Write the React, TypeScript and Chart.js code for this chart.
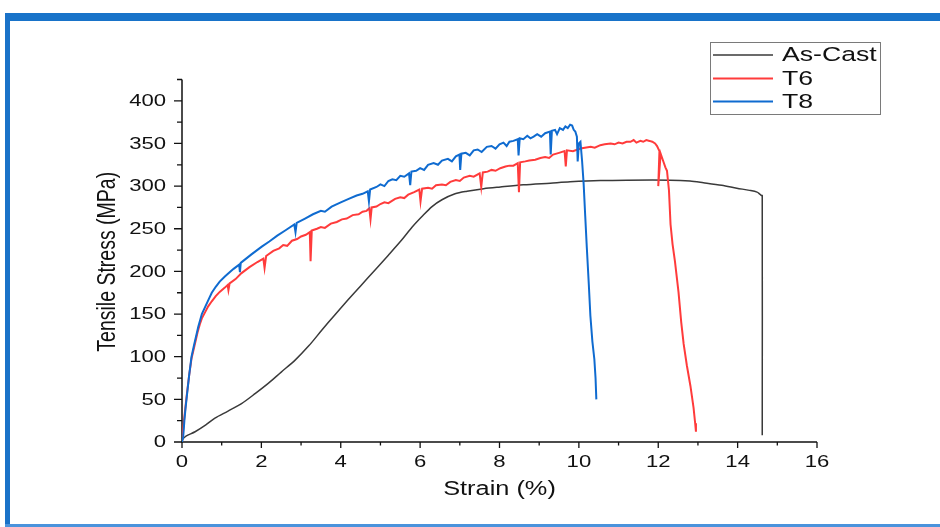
import React, { useEffect, useRef } from 'react';
import { Chart, registerables } from 'chart.js';

Chart.register(...registerables);

// ---- tick labels / axis ranges ----
const X_TICKS = [0, 2, 4, 6, 8, 10, 12, 14, 16];
const X_MINOR = [1, 3, 5, 7, 9, 11, 13, 15];
const Y_TICKS = [0, 50, 100, 150, 200, 250, 300, 350, 400];
const Y_MINOR = [25, 75, 125, 175, 225, 275, 325, 375, 425];
const X_MAX = 16;
const Y_MAX = 425;
const X_TITLE = 'Strain (%)';
const Y_TITLE = 'Tensile Stress (MPa)';
const SERIES_NAMES = ['As-Cast', 'T6', 'T8'];
const SERIES_COLORS = ['#3a3a3a', '#ff3b3b', '#0f6bd0'];

// ---- As-Cast ----
const asCastStrain = [0, 0.03, 0.1, 0.33, 0.6, 0.83, 1.15, 1.5, 1.85, 2.18, 2.5, 2.85, 3.2, 3.52, 3.85, 4.19, 4.5, 4.87, 5.2, 5.54, 5.8, 6.04, 6.3, 6.55, 6.88, 7.18, 7.6, 8.02, 8.6, 9.28, 9.78, 10.54, 11.2, 12.3, 12.8, 13.14, 13.6, 13.98, 14.3, 14.49, 14.55, 14.6, 14.62, 14.62];
const asCastStress = [2, 4, 7, 12, 20, 28, 36, 45, 57, 69, 82, 96, 113, 131, 149, 167, 183, 202, 219, 237, 252, 264, 276, 284, 291, 294, 297, 299, 301.5, 303.5, 305, 306.5, 307, 307, 306, 304, 301, 297.6, 295, 293, 291, 289, 289, 8];

// ---- T6 ----
const t6Strain = [0, 0.05, 0.08, 0.12, 0.18, 0.24, 0.3, 0.4, 0.45, 0.5, 0.58, 0.66, 0.75, 0.85, 0.95, 1.08, 1.15, 1.17, 1.2, 1.35, 1.5, 1.7, 1.9, 2.05, 2.08, 2.12, 2.3, 2.45, 2.55, 2.65, 2.77, 2.9, 3.0, 3.12, 3.22, 3.24, 3.27, 3.4, 3.5, 3.6, 3.75, 3.9, 4.03, 4.15, 4.3, 4.45, 4.55, 4.65, 4.72, 4.75, 4.78, 4.9, 5.0, 5.1, 5.2, 5.37, 5.5, 5.6, 5.7, 5.85, 5.98, 6.01, 6.05, 6.2, 6.3, 6.4, 6.55, 6.65, 6.76, 6.9, 7.0, 7.1, 7.25, 7.35, 7.5, 7.54, 7.58, 7.7, 7.8, 7.9, 8.02, 8.15, 8.25, 8.35, 8.46, 8.49, 8.52, 8.65, 8.75, 8.9, 9.03, 9.15, 9.25, 9.35, 9.5, 9.64, 9.67, 9.7, 9.85, 10.04, 10.15, 10.3, 10.4, 10.54, 10.65, 10.8, 10.9, 11.0, 11.1, 11.2, 11.3, 11.38, 11.45, 11.55, 11.62, 11.7, 11.78, 11.85, 11.92, 11.97, 12.03, 12.0, 12.06, 12.12, 12.18, 12.22, 12.27, 12.31, 12.36, 12.42, 12.51, 12.58, 12.64, 12.72, 12.81, 12.89, 12.93, 12.95];
const t6Stress = [0, 25, 38, 55, 78, 98, 110, 130, 138, 145, 152, 159, 165, 171, 176, 181, 184, 178, 186, 191, 198, 205, 211, 215, 204, 218, 224, 227, 231, 230, 236, 238, 241, 243, 246, 212, 248, 250, 252, 251, 256, 258, 261, 262, 266, 267, 270, 271, 274, 261, 275, 276, 279, 281, 280, 285, 287, 286, 290, 293, 296, 282, 297, 298, 297, 301, 302, 301, 305, 307, 306, 310, 312, 311, 315, 299, 316, 317, 319, 318, 321, 323, 324, 324, 327, 293, 328, 329, 330, 331, 333, 334, 333, 337, 339, 341, 323, 342, 341, 344, 345, 346, 345, 348, 349, 350, 349, 351, 350, 352, 352, 354, 351, 353, 352, 354, 353, 352, 350, 347, 341, 300, 338, 330, 322, 318, 295, 255, 232, 212, 176, 140, 115, 90, 66, 40, 22, 12];

// ---- T8 ----
const t8Strain = [0, 0.03, 0.06, 0.09, 0.12, 0.18, 0.24, 0.3, 0.41, 0.5, 0.66, 0.75, 0.85, 0.95, 1.08, 1.2, 1.3, 1.44, 1.46, 1.48, 1.75, 2.01, 2.2, 2.4, 2.6, 2.83, 2.86, 2.89, 3.1, 3.3, 3.5, 3.6, 3.77, 4.0, 4.2, 4.4, 4.55, 4.68, 4.71, 4.74, 4.9, 5.0, 5.1, 5.2, 5.3, 5.4, 5.5, 5.6, 5.72, 5.75, 5.78, 5.9, 6.0, 6.1, 6.2, 6.34, 6.45, 6.55, 6.7, 6.8, 6.9, 6.99, 7.01, 7.04, 7.15, 7.25, 7.35, 7.45, 7.55, 7.68, 7.8, 7.9, 8.0, 8.1, 8.18, 8.25, 8.35, 8.46, 8.48, 8.51, 8.6, 8.7, 8.78, 8.86, 8.95, 9.05, 9.15, 9.27, 9.29, 9.32, 9.4, 9.45, 9.52, 9.6, 9.66, 9.72, 9.78, 9.83, 9.87, 9.91, 9.95, 9.97, 10.0, 10.04, 10.08, 10.12, 10.16, 10.2, 10.25, 10.29, 10.34, 10.39, 10.42, 10.44];
const t8Stress = [0, 6, 25, 40, 53, 78, 100, 113, 135, 150, 166, 175, 182, 188, 194, 199, 203, 208, 199, 210, 220, 229, 235, 242, 248, 255, 246, 257, 262, 267, 271, 270, 276, 281, 285, 289, 291, 294, 282, 296, 299, 302, 300, 306, 308, 307, 312, 311, 315, 301, 317, 318, 321, 319, 325, 327, 325, 330, 332, 329, 335, 337, 319, 338, 339, 336, 342, 343, 340, 346, 347, 344, 349, 351, 347, 352, 353, 355, 336, 356, 355, 359, 356, 358, 361, 358, 362, 364, 337, 365, 366, 361, 368, 366, 370, 368, 372, 371, 366, 364, 358, 329, 350, 352, 330, 303, 265, 228, 185, 148, 118, 97, 75, 50];

const FONT = "'Liberation Sans', Arial, Helvetica, sans-serif";
const STRETCH = 1.3;

const toPoints = (xs: number[], ys: number[]) => xs.map((x, i) => ({ x, y: ys[i] }));

function stretchedText(ctx: CanvasRenderingContext2D, text: string, x: number, y: number, sx: number, align: CanvasTextAlign, rot = 0) {
  ctx.save();
  ctx.translate(x, y);
  ctx.scale(sx, 1);
  if (rot) ctx.rotate(rot);
  ctx.textAlign = align;
  ctx.textBaseline = 'middle';
  ctx.fillText(text, 0, 0);
  ctx.restore();
}

const axesPlugin = {
  id: 'customAxes',
  beforeDatasetsDraw(chart: any) {
    const { ctx, scales } = chart;
    const xs = scales.x;
    const ys = scales.y;
    const x0 = xs.getPixelForValue(0);
    const x1 = xs.getPixelForValue(X_MAX);
    const y0 = ys.getPixelForValue(0);
    const y1 = ys.getPixelForValue(Y_MAX);
    ctx.save();
    ctx.strokeStyle = '#111';
    ctx.lineWidth = 1.5;
    ctx.beginPath();
    ctx.moveTo(x0, y1);
    ctx.lineTo(x0, y0);
    ctx.lineTo(x1, y0);
    ctx.stroke();
    ctx.lineWidth = 1.3;
    ctx.beginPath();
    X_TICKS.forEach((v) => { const p = xs.getPixelForValue(v); ctx.moveTo(p, y0); ctx.lineTo(p, y0 + 6); });
    X_MINOR.forEach((v) => { const p = xs.getPixelForValue(v); ctx.moveTo(p, y0); ctx.lineTo(p, y0 + 3.5); });
    Y_TICKS.forEach((v) => { const p = ys.getPixelForValue(v); ctx.moveTo(x0, p); ctx.lineTo(x0 - 8, p); });
    Y_MINOR.forEach((v) => { const p = ys.getPixelForValue(v); ctx.moveTo(x0, p); ctx.lineTo(x0 - 5, p); });
    ctx.stroke();
    ctx.fillStyle = '#111';
    ctx.font = `17px ${FONT}`;
    X_TICKS.forEach((v) => stretchedText(ctx, String(v), xs.getPixelForValue(v), y0 + 20, STRETCH, 'center'));
    Y_TICKS.forEach((v) => stretchedText(ctx, String(v), x0 - 16, ys.getPixelForValue(v) + 0.5, STRETCH, 'right'));
    ctx.font = `19.5px ${FONT}`;
    stretchedText(ctx, X_TITLE, (x0 + x1) / 2, y0 + 48, STRETCH, 'center');
    stretchedText(ctx, Y_TITLE, 108, (y0 + y1) / 2 + 1, STRETCH, 'center', -Math.PI / 2);
    ctx.restore();
  },
  afterDraw(chart: any) {
    const { ctx } = chart;
    ctx.save();
    ctx.strokeStyle = '#7a7a7a';
    ctx.lineWidth = 1;
    ctx.strokeRect(710.5, 42.5, 170, 72);
    const rows = [55, 78.5, 101.5];
    ctx.font = `20.5px ${FONT}`;
    ctx.fillStyle = '#111';
    SERIES_NAMES.forEach((name, i) => {
      ctx.strokeStyle = SERIES_COLORS[i];
      ctx.lineWidth = i === 0 ? 1.5 : 2;
      ctx.beginPath();
      ctx.moveTo(713, rows[i]);
      ctx.lineTo(773, rows[i]);
      ctx.stroke();
      stretchedText(ctx, name, 782, rows[i] + 0.5, 1.3, 'left');
    });
    ctx.restore();
  },
};

export default function App() {
  const ref = useRef<HTMLCanvasElement | null>(null);
  useEffect(() => {
    if (!ref.current) return;
    const chart = new Chart(ref.current, {
      type: 'scatter',
      data: {
        datasets: [
          { label: SERIES_NAMES[0], data: toPoints(asCastStrain, asCastStress), borderColor: SERIES_COLORS[0], borderWidth: 1.5, order: 3, tension: 0.3 },
          { label: SERIES_NAMES[1], data: toPoints(t6Strain, t6Stress), borderColor: SERIES_COLORS[1], borderWidth: 2, order: 2, tension: 0 },
          { label: SERIES_NAMES[2], data: toPoints(t8Strain, t8Stress), borderColor: SERIES_COLORS[2], borderWidth: 2, order: 1, tension: 0 },
        ].map((d) => ({ ...d, showLine: true, pointRadius: 0, fill: false })),
      },
      options: {
        animation: false,
        responsive: false,
        maintainAspectRatio: false,
        layout: { padding: { left: 182, right: 123, top: 79.5, bottom: 85 } },
        plugins: { legend: { display: false }, tooltip: { enabled: false } },
        scales: {
          x: { type: 'linear', min: 0, max: X_MAX, display: false },
          y: { type: 'linear', min: 0, max: Y_MAX, display: false },
        },
      },
      plugins: [axesPlugin],
    } as any);
    return () => chart.destroy();
  }, []);

  return (
    <div style={{ position: 'absolute', left: 0, top: 0, width: 940, height: 527, background: '#fff', overflow: 'hidden' }}>
      <div style={{ position: 'absolute', left: 5, top: 13, width: 935, height: 8, background: '#1873c9' }} />
      <div style={{ position: 'absolute', left: 5, top: 13, width: 5, height: 514, background: '#1a72c8' }} />
      <div style={{ position: 'absolute', left: 5, top: 524, width: 935, height: 3, background: '#4a93dc' }} />
      <canvas ref={ref} width={940} height={527} style={{ position: 'absolute', left: 0, top: 0, width: 940, height: 527, display: 'block' }} />
    </div>
  );
}
